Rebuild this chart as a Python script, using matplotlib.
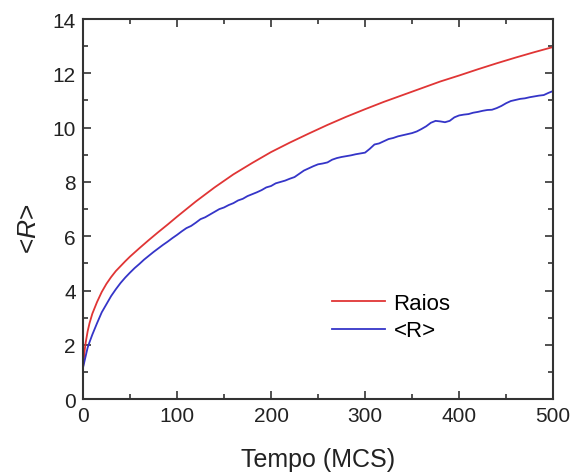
import matplotlib
matplotlib.use('Agg')
import matplotlib.pyplot as plt
from matplotlib.ticker import MultipleLocator

plt.rcParams['font.family'] = ['Liberation Sans', 'DejaVu Sans']
plt.rcParams['mathtext.fontset'] = 'custom'
plt.rcParams['mathtext.rm'] = 'Liberation Sans'
plt.rcParams['mathtext.it'] = 'Liberation Sans:italic'

# Raios (smooth curve)
t_raios = [0, 1, 2, 3, 5, 7, 10, 15, 20, 25, 30, 35, 40, 45, 50, 60, 70, 80,
           90, 100, 120, 140, 160, 180, 200, 220, 240, 260, 280, 300, 320,
           340, 360, 380, 400, 420, 440, 460, 480, 500]
raios = [1.15, 1.5, 1.85, 2.1, 2.5, 2.8, 3.15, 3.58, 3.95, 4.25, 4.5, 4.72,
         4.9, 5.08, 5.25, 5.56, 5.86, 6.15, 6.43, 6.72, 7.28, 7.8, 8.28, 8.7,
         9.1, 9.45, 9.78, 10.1, 10.4, 10.68, 10.95, 11.2, 11.45, 11.7, 11.92,
         12.15, 12.37, 12.58, 12.78, 12.97]

# <R> (noisy curve)
t_r = [0, 1, 2, 3, 5, 7, 10, 15, 20, 25, 30, 35, 40, 45, 50, 55, 60, 65, 70,
       75, 80, 85, 90, 95,
       100, 105, 110, 115, 120, 125, 130, 135, 140, 145, 150, 155, 160, 165,
       170, 175, 180, 185, 190, 195, 200, 205, 210, 215, 220, 225, 230, 235,
       240, 245, 250, 255, 260, 265, 270, 275, 280, 285, 290, 295, 300, 305,
       310, 315, 320, 325, 330, 335, 340, 345, 350, 355, 360, 365, 370, 375,
       380, 385, 390, 395, 400, 405, 410, 415, 420, 425, 430, 435, 440, 445,
       450, 455, 460, 465, 470, 475, 480, 485, 490, 495, 500]
r_mean = [1.15, 1.3, 1.45, 1.6, 1.9, 2.1, 2.38, 2.8, 3.2, 3.5, 3.8, 4.05,
          4.28, 4.48, 4.66, 4.83, 4.98, 5.14, 5.28, 5.42, 5.55, 5.68, 5.80,
          5.93,
          6.05, 6.18, 6.30, 6.38, 6.50, 6.63, 6.70, 6.80, 6.90, 7.00, 7.06,
          7.15, 7.22, 7.32, 7.38, 7.48, 7.55, 7.62, 7.70, 7.80, 7.85, 7.95,
          8.00, 8.05, 8.12, 8.18, 8.30, 8.42, 8.50, 8.58, 8.65, 8.68, 8.72,
          8.82, 8.88, 8.92, 8.95, 8.98, 9.02, 9.05, 9.08, 9.22, 9.38, 9.42,
          9.50, 9.58, 9.62, 9.68, 9.72, 9.76, 9.80, 9.86, 9.95, 10.05, 10.18,
          10.25, 10.23, 10.20, 10.25, 10.38, 10.45, 10.48, 10.50, 10.55,
          10.58, 10.62, 10.65, 10.66, 10.72, 10.80, 10.90, 10.98, 11.02,
          11.06, 11.08, 11.12, 11.15, 11.18, 11.20, 11.28, 11.35]

fig = plt.figure(figsize=(5.72, 4.77), dpi=100)
ax = fig.add_axes([0.145, 0.161, 0.822, 0.797])

ax.plot(t_raios, raios, color='#e03535', lw=1.3, label='Raios')
ax.plot(t_r, r_mean, color='#3535c8', lw=1.3, label='<R>')

ax.set_xlim(0, 500)
ax.set_ylim(0, 14)
ax.xaxis.set_major_locator(MultipleLocator(100))
ax.xaxis.set_minor_locator(MultipleLocator(50))
ax.yaxis.set_major_locator(MultipleLocator(2))
ax.yaxis.set_minor_locator(MultipleLocator(1))
ax.tick_params(which='both', direction='in', top=True, right=True,
               labelsize=15, width=1.2, color='#333333', labelcolor='#222222')
ax.tick_params(which='major', length=6, pad=5)
ax.tick_params(which='minor', length=3.5)
for s in ax.spines.values():
    s.set_linewidth(1.5)
    s.set_color('#333333')

ax.set_xlabel('Tempo (MCS)', fontsize=18, labelpad=16, color='#222222')
ax.set_ylabel(r'<$\mathit{R}$>', fontsize=19, color='#222222')
ax.yaxis.set_label_coords(-0.09, 0.45)

ax.legend(loc='upper left', bbox_to_anchor=(0.53, 0.28), frameon=False,
          fontsize=16, handlelength=2.4, handletextpad=0.36,
          labelspacing=0.3, borderpad=0, borderaxespad=0)

plt.savefig('out.png', dpi=100)
